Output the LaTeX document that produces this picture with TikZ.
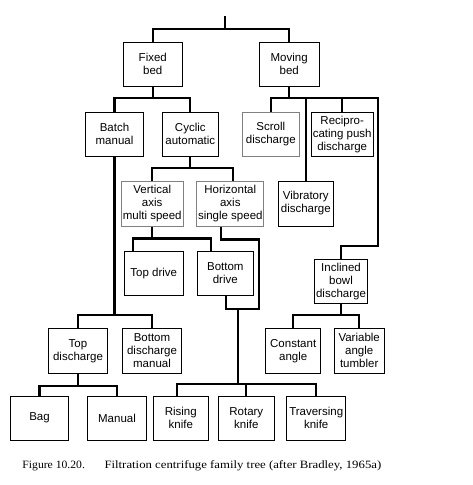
\documentclass[tikz,border=0pt]{standalone}
\usepackage{fontspec}
\setmainfont{Liberation Sans}
\newfontfamily\capfont{Liberation Serif}

\begin{document}
\begin{tikzpicture}[x=1pt,y=-1pt,
  nd/.style={draw,line width=0.8pt,minimum height=44pt,inner sep=1pt,align=center,
    font=\fontsize{11.5}{13}\selectfont},
  gnd/.style={nd,draw=black!50,line width=1pt},
  capt/.style={anchor=base west,inner sep=0pt,font=\capfont\fontsize{11.2}{13}\selectfont},
  conn/.style={line width=2.2pt}]
  \useasboundingbox (0,0) rectangle (472,485);
  % level 1
  \node[nd,minimum width=59pt] (fb) at (152.8,64.3) {Fixed\\bed};
  \node[nd,minimum width=59.7pt] (mb) at (289.2,64.3) {Moving\\bed};
  % level 2
  \node[nd,minimum width=57.6pt] (bm) at (114.5,134.2) {Batch\\manual};
  \node[nd,minimum width=56pt] (ca) at (190.3,134.2) {Cyclic\\automatic};
  \node[gnd,minimum width=57pt] (sd) at (270.8,134.2) {Scroll\\discharge};
  \node[nd,minimum width=62.3pt] (rp) at (342.2,134.2) {Recipro-\\cating push\\discharge};
  % level 3
  \node[gnd,minimum width=62.3pt,minimum height=45pt] (va) at (152.2,203.5) {Vertical\\axis\\multi speed};
  \node[gnd,minimum width=67.3pt,minimum height=45pt] (ha) at (230.3,203.5) {Horizontal\\axis\\single speed};
  \node[nd,minimum width=55pt,minimum height=45pt] (vd) at (305.8,203.5) {Vibratory\\discharge};
  % level 4
  \node[nd,minimum width=59pt,minimum height=44.7pt] (tdr) at (153.8,273.3) {Top drive};
  \node[nd,minimum width=56pt,minimum height=44.7pt] (bdr) at (225.3,273.3) {Bottom\\drive};
  \node[nd,minimum width=53.4pt] (ib) at (341,281.3) {Inclined\\bowl\\discharge};
  % level 5
  \node[nd,minimum width=59.4pt,minimum height=45pt] (tdc) at (78,350.8) {Top\\discharge};
  \node[nd,minimum width=59.4pt,minimum height=45pt] (bdm) at (152,350.8) {Bottom\\discharge\\manual};
  \node[nd,minimum width=55pt,minimum height=45pt] (cst) at (293.2,350.8) {Constant\\angle};
  \node[nd,minimum width=50.3pt,minimum height=45pt] (vat) at (359.2,350.8) {Variable\\angle\\tumbler};
  % level 6
  \node[nd,minimum width=58.4pt] (bag) at (39.5,418.2) {Bag};
  \node[nd,minimum width=59.4pt] (man) at (117,418.2) {Manual};
  \node[nd,minimum width=55pt] (rk) at (180.8,418.2) {Rising\\knife};
  \node[nd,minimum width=56pt] (rt) at (246.3,418.2) {Rotary\\knife};
  \node[nd,minimum width=59pt] (tk) at (316.2,418.2) {Traversing\\knife};
  \coordinate (top) at (225,16);
  \coordinate (rail) at (377.7,246);
  \coordinate (hturn) at (259,309.3);
  \coordinate (kn) at (238,309.3);
  % connectors
  \draw[conn] (top) -- ++(0,13);
  \draw[conn] (fb.north) -- ++(0,-13.3) -| (mb.north);
  \draw[conn] (fb.south) -- ++(0,12.4);
  \draw[conn] (bm.north) -- ++(0,-13.6) -| (ca.north);
  \draw[conn] (mb.south) -- ++(0,12.4);
  \draw[conn] (sd.north) -- ++(0,-13.6) -| (rail) -| (ib.north);
  \draw[conn] (rp.north) -- ++(0,-13.6);
  \draw[conn] (vd.north) -- ++(0,-82.3);
  \draw[conn] (ca.south) -- ++(0,12.3);
  \draw[conn] (va.north) -- ++(0,-12.7) -| ([xshift=2.4pt]ha.north);
  \draw[conn] (va.south) -- ++(0,13);
  \draw[conn] ([xshift=-20.5pt]tdr.north) -- ++(0,-12) -| ([xshift=-14.3pt]bdr.north);
  \draw[conn] ([xshift=-9.6pt]ha.south) -- ++(0,13) -| (hturn) -| ([xshift=0.7pt]bdr.south);
  \draw[conn] (kn) -- ++(0,74.7);
  \draw[conn] ([xshift=-4pt]rk.north) -- ++(0,-12) -| (tk.north);
  \draw[conn] (rt.north) -- ++(0,-12);
  \draw[conn] (bm.south) -- ++(0,159.7);
  \draw[conn] (tdc.north) -- ++(0,-12.6) -| (bdm.north);
  \draw[conn] (tdc.south) -- ++(0,12.7);
  \draw[conn] (bag.north) -- ++(0,-10) -| (man.north);
  \draw[conn] (ib.south) -- ++(0,12.4);
  \draw[conn] (cst.north) -- ++(0,-12.6) -| (vat.north);
  % caption
  \node[capt] (capnum) at (22.3,468.7) {\scalebox{1.04}[1]{Figure 10.20.}};
  \node[capt] (captxt) at (104.3,468.7) {\scalebox{1.14}[1]{Filtration centrifuge family tree (after Bradley, 1965a)}};
\end{tikzpicture}
\end{document}
